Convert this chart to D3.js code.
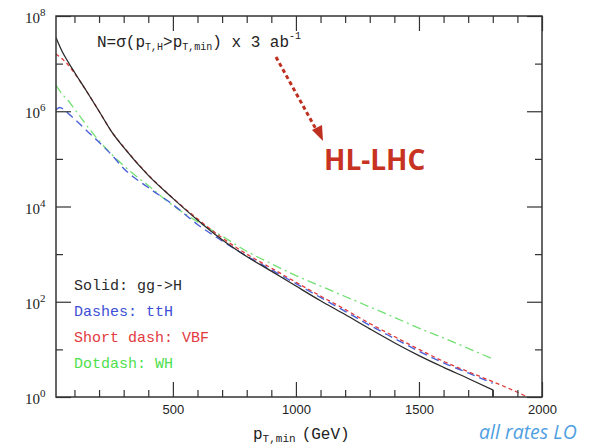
<!DOCTYPE html>
<html>
<head>
<meta charset="utf-8">
<script src="https://cdn.jsdelivr.net/npm/d3@7"></script>
<style>
  html, body { margin: 0; padding: 0; background: #fff; }
  svg { display: block; }
</style>
</head>
<body>
<svg id="chart" width="594" height="447"></svg>
<script>
// Higgs production rates N = sigma(pT,H > pT,min) x 3 ab^-1, per channel
const pT_ggH = [25, 50, 75, 100, 150, 200, 250, 300, 400, 500, 600, 700, 800, 900, 1000, 1100, 1200, 1300, 1400, 1500, 1600, 1700, 1800];
const N_ggH  = [3.5e7, 1.8e7, 1.07e7, 6.6e6, 2.6e6, 1.0e6, 3.8e5, 1.74e5, 4.5e4, 1.48e4, 5.2e3, 2.0e3, 890, 440, 214, 105, 54, 27, 13.8, 7.4, 4.2, 2.45, 1.41];

const pT_ttH = [25, 40, 60, 80, 100, 150, 200, 250, 300, 400, 500, 600, 700, 800, 900, 1000, 1100, 1200, 1300, 1400, 1500, 1600, 1700, 1800];
const N_ttH  = [1.07e6, 1.2e6, 1.05e6, 8.5e5, 6.9e5, 3.9e5, 2.24e5, 1.23e5, 6.3e4, 2.5e4, 1.1e4, 4.2e3, 1.9e3, 910, 470, 240, 123, 63, 32, 17, 9.1, 5.2, 3.2, 1.95];

const pT_VBF = [25, 50, 75, 100, 150, 200, 250, 300, 400, 500, 600, 700, 800, 900, 1000, 1100, 1200, 1300, 1400, 1500, 1600, 1700, 1800, 1900, 1950];
const N_VBF  = [1.6e7, 1.26e7, 9.3e6, 6.3e6, 2.6e6, 1.0e6, 3.8e5, 1.78e5, 4.6e4, 1.5e4, 5.5e3, 2.2e3, 1000, 510, 257, 132, 69, 35, 18.6, 10, 5.6, 3.4, 2.1, 1.26, 0.95];

const pT_WH  = [25, 50, 75, 100, 150, 200, 250, 300, 400, 500, 600, 700, 800, 900, 1000, 1100, 1200, 1300, 1400, 1500, 1600, 1700, 1800];
const N_WH   = [3.5e6, 2.3e6, 1.66e6, 1.12e6, 5.0e5, 2.4e5, 1.26e5, 7.2e4, 2.75e4, 1.05e4, 4.8e3, 2.4e3, 1.15e3, 630, 355, 214, 129, 78, 47, 28, 17.4, 10.5, 6.3];

// the gg->H histogram closes with a drop to the axis at its last bin
const ggH_closeToAxis = true;

const xMajorTicks = [500, 1000, 1500, 2000];
const xMinorTicks = [100, 200, 300, 400, 600, 700, 800, 900, 1100, 1200, 1300, 1400, 1600, 1700, 1800, 1900];
const yMajorTicks = [1, 1e2, 1e4, 1e6, 1e8];
const yMinorTicks = [10, 1e3, 1e5, 1e7];
const yTickExponents = ["0", "2", "4", "6", "8"];

const legendLines = [
  { text: "Solid: gg->H",     color: "#2a2a2a" },
  { text: "Dashes: ttH",      color: "#3d4fd6" },
  { text: "Short dash: VBF",  color: "#e23a40" },
  { text: "Dotdash: WH",      color: "#4ee04e" }
];

const series = [
  { pT: pT_WH,  N: N_WH,  color: "#72e072", dash: "9,4,2,4", width: 1.3, drop: false },
  { pT: pT_ttH, N: N_ttH, color: "#4a60d8", dash: "8,5",     width: 1.4, drop: false },
  { pT: pT_VBF, N: N_VBF, color: "#e03a3a", dash: "4,3",     width: 1.3, drop: false },
  { pT: pT_ggH, N: N_ggH, color: "#2a2a2a", dash: null,      width: 1.3, drop: ggH_closeToAxis }
];

const plot = { left: 56, right: 542, top: 16, bottom: 397 };

const svg = d3.select("#chart");
svg.append("rect").attr("width", 594).attr("height", 447).attr("fill", "#fff");

const x = d3.scaleLinear().domain([25, 2000]).range([plot.left, plot.right]);
const y = d3.scaleLog().domain([1, 1e8]).range([plot.bottom, plot.top]);

svg.append("clipPath").attr("id", "plotClip")
  .append("rect")
  .attr("x", plot.left).attr("y", plot.top)
  .attr("width", plot.right - plot.left).attr("height", plot.bottom - plot.top);

// curves
const line = d3.line()
  .x(d => x(d[0]))
  .y(d => y(d[1]))
  .curve(d3.curveMonotoneX);

const curves = svg.append("g").attr("clip-path", "url(#plotClip)");
series.forEach(s => {
  const pts = s.pT.map((p, i) => [p, s.N[i]]);
  let d = line(pts);
  if (s.drop) {
    const last = pts[pts.length - 1];
    d += `L${x(last[0])},${y.range()[0]}`;
  }
  curves.append("path")
    .attr("d", d)
    .attr("fill", "none")
    .attr("stroke", s.color)
    .attr("stroke-width", s.width)
    .attr("stroke-dasharray", s.dash);
});

// ticks on all four sides, pointing inward
function styleAxis(g) {
  g.select(".domain").remove();
  g.selectAll(".tick line").attr("stroke", "#333").attr("stroke-width", 1.2);
}
const tickColor = "#333";

svg.append("g").attr("transform", `translate(0,${plot.bottom})`)
  .call(d3.axisBottom(x).tickValues(xMajorTicks).tickSize(-15).tickPadding(8).tickFormat(d3.format("d")))
  .call(styleAxis)
  .call(g => g.selectAll("text")
    .attr("font-family", "Liberation Sans, Arial, sans-serif")
    .attr("font-size", 13).attr("fill", "#222"));
svg.append("g").attr("transform", `translate(0,${plot.bottom})`)
  .call(d3.axisBottom(x).tickValues(xMinorTicks).tickSize(-7).tickFormat(""))
  .call(styleAxis);
svg.append("g").attr("transform", `translate(0,${plot.top})`)
  .call(d3.axisTop(x).tickValues(xMajorTicks).tickSize(-15).tickFormat(""))
  .call(styleAxis);
svg.append("g").attr("transform", `translate(0,${plot.top})`)
  .call(d3.axisTop(x).tickValues(xMinorTicks).tickSize(-7).tickFormat(""))
  .call(styleAxis);

svg.append("g").attr("transform", `translate(${plot.left},0)`)
  .call(d3.axisLeft(y).tickValues(yMajorTicks).tickSize(-15).tickFormat(""))
  .call(styleAxis);
svg.append("g").attr("transform", `translate(${plot.left},0)`)
  .call(d3.axisLeft(y).tickValues(yMinorTicks).tickSize(-7).tickFormat(""))
  .call(styleAxis);
svg.append("g").attr("transform", `translate(${plot.right},0)`)
  .call(d3.axisRight(y).tickValues(yMajorTicks).tickSize(-15).tickFormat(""))
  .call(styleAxis);
svg.append("g").attr("transform", `translate(${plot.right},0)`)
  .call(d3.axisRight(y).tickValues(yMinorTicks).tickSize(-7).tickFormat(""))
  .call(styleAxis);

// y tick labels: 10 with a superscript exponent
const yLab = svg.append("g")
  .attr("font-family", "Liberation Serif, Times New Roman, serif")
  .attr("fill", "#222");
yMajorTicks.forEach((v, i) => {
  const t = yLab.append("text")
    .attr("x", plot.left - 31)
    .attr("y", y(v) + 7)
    .attr("font-size", 15);
  t.append("tspan").text("10");
  t.append("tspan").attr("font-size", 11).attr("dy", -7).text(yTickExponents[i]);
});

// frame
svg.append("rect")
  .attr("x", plot.left).attr("y", plot.top)
  .attr("width", plot.right - plot.left).attr("height", plot.bottom - plot.top)
  .attr("fill", "none").attr("stroke", tickColor).attr("stroke-width", 1.5);

// x axis title
const xt = svg.append("text")
  .attr("x", 253).attr("y", 439)
  .attr("font-family", "Liberation Mono, Courier New, monospace")
  .attr("font-size", 16).attr("fill", "#222");
xt.append("tspan").text("p");
xt.append("tspan").attr("font-size", 11).attr("dy", 3).text("T,min");
xt.append("tspan").attr("dy", -3).attr("dx", 6).text("(GeV)");

// formula at the top
const ft = svg.append("text")
  .attr("x", 97).attr("y", 47)
  .attr("font-family", "Liberation Mono, Courier New, monospace")
  .attr("font-size", 16).attr("fill", "#222");
ft.append("tspan").text("N=σ(p");
ft.append("tspan").attr("font-size", 10).attr("dy", 3).text("T,H");
ft.append("tspan").attr("dy", -3).text(">p");
ft.append("tspan").attr("font-size", 10).attr("dy", 3).text("T,min");
ft.append("tspan").attr("dy", -3).text(") x 3 ab");
ft.append("tspan").attr("font-size", 10).attr("dy", -8).text("-1");

// legend
const lg = svg.append("g")
  .attr("font-family", "Liberation Mono, Courier New, monospace")
  .attr("font-size", 15);
legendLines.forEach((l, i) => {
  lg.append("text")
    .attr("x", 74).attr("y", 290 + i * 26)
    .attr("fill", l.color)
    .text(l.text);
});

// HL-LHC annotation with dotted arrow
svg.append("line")
  .attr("x1", 276).attr("y1", 57).attr("x2", 317).attr("y2", 131)
  .attr("stroke", "#bf2f1f").attr("stroke-width", 3)
  .attr("stroke-dasharray", "4,3");
svg.append("path")
  .attr("d", "M 323 141 L 312 130 L 322 125 Z")
  .attr("fill", "#bf2f1f");
svg.append("text")
  .attr("x", 324).attr("y", 170)
  .attr("font-family", "Open Sans, sans-serif")
  .attr("font-weight", 700)
  .attr("font-size", 28)
  .attr("fill", "#c73222")
  .text("HL-LHC");

svg.append("text")
  .attr("x", 479).attr("y", 439)
  .attr("font-family", "Open Sans, sans-serif")
  .attr("font-style", "italic")
  .attr("font-size", 19.5)
  .attr("fill", "#4f9fe2")
  .text("all rates LO");
</script>
</body>
</html>
